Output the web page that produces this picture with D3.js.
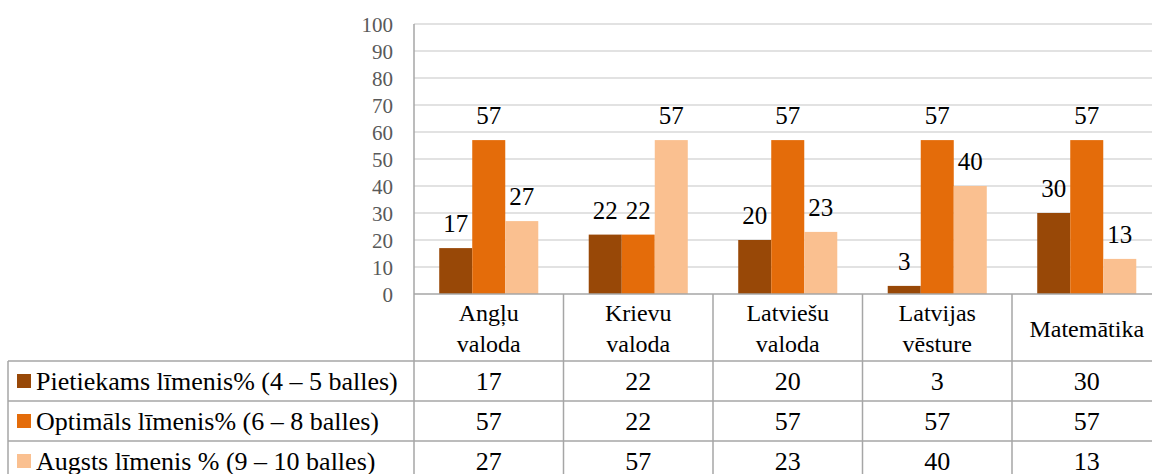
<!DOCTYPE html>
<html>
<head>
<meta charset="utf-8">
<script src="https://cdn.jsdelivr.net/npm/d3@7"></script>
<style>
  body { margin: 0; background: #fff; }
</style>
</head>
<body>
<script>
// data
var categories = ["Angļu valoda", "Krievu valoda", "Latviešu valoda", "Latvijas vēsture", "Matemātika"]
var categoryLines = [["Angļu", "valoda"], ["Krievu", "valoda"], ["Latviešu", "valoda"], ["Latvijas", "vēsture"], ["Matemātika"]]
var seriesNames = ["Pietiekams līmenis% (4 – 5 balles)", "Optimāls līmenis% (6 – 8 balles)", "Augsts līmenis % (9 – 10 balles)"]
var pietiekams = [17, 22, 20, 3, 30]
var optimals = [57, 22, 57, 57, 57]
var augsts = [27, 57, 23, 40, 13]
var yTicks = [0, 10, 20, 30, 40, 50, 60, 70, 80, 90, 100]
var colors = ["#984807", "#e46c0a", "#fac090"]

function main() {
  var W = 1152, H = 474
  var svg = d3.select("body").append("svg").attr("width", W).attr("height", H)
    .style("font-family", "'Liberation Serif', 'Times New Roman', Tinos, 'DejaVu Serif', serif")

  var values = [pietiekams, optimals, augsts]
  var plotLeft = 414
  var colW = 149.5
  var tableLeft = 8
  var axisY = 294
  var rowTop = 361
  var rowH = 40

  var x = d3.scaleBand().domain(categories).range([plotLeft, plotLeft + colW * categories.length])
  var x1 = d3.scaleBand().domain(seriesNames).range([0, x.bandwidth()]).paddingInner(0).paddingOuter(0.764)
  var y = d3.scaleLinear().domain([0, 100]).range([axisY, 24])

  // gridlines
  svg.append("g").selectAll("line")
    .data(yTicks.filter(function(d) { return d > 0 }))
    .enter().append("line")
    .attr("x1", plotLeft).attr("x2", W)
    .attr("y1", function(d) { return y(d) }).attr("y2", function(d) { return y(d) })
    .attr("stroke", "#d9d9d9").attr("stroke-width", 1.5)

  // y tick labels
  svg.append("g").selectAll("text")
    .data(yTicks)
    .enter().append("text")
    .attr("x", 393)
    .attr("y", function(d) { return y(d) + 7.5 })
    .attr("text-anchor", "end")
    .attr("fill", "#595959")
    .attr("font-size", 21)
    .text(function(d) { return d })

  // bars
  var groups = svg.append("g").selectAll("g")
    .data(categories)
    .enter().append("g")
    .attr("transform", function(d) { return "translate(" + x(d) + ",0)" })

  groups.each(function(cat, ci) {
    var g = d3.select(this)
    seriesNames.forEach(function(s, si) {
      var v = values[si][ci]
      g.append("rect")
        .attr("x", x1(s))
        .attr("y", y(v))
        .attr("width", x1.bandwidth())
        .attr("height", axisY - y(v))
        .attr("fill", colors[si])
      g.append("text")
        .attr("x", x1(s) + x1.bandwidth() / 2)
        .attr("y", y(v) - 16)
        .attr("text-anchor", "middle")
        .attr("font-size", 25)
        .attr("fill", "#000")
        .text(v)
    })
  })

  // table lines
  var lineColor = "#a6a6a6"
  var lines = svg.append("g").attr("stroke", lineColor).attr("stroke-width", 1.5)
  lines.append("line").attr("x1", plotLeft).attr("x2", plotLeft).attr("y1", y(100)).attr("y2", H)
  lines.append("line").attr("x1", plotLeft).attr("x2", W).attr("y1", axisY).attr("y2", axisY)
  categories.forEach(function(c, i) {
    if (i > 0) {
      lines.append("line").attr("x1", x(c)).attr("x2", x(c)).attr("y1", axisY).attr("y2", H)
    }
  })
  lines.append("line").attr("x1", tableLeft).attr("x2", tableLeft).attr("y1", rowTop).attr("y2", H)
  for (var r = 0; r < 3; r++) {
    lines.append("line").attr("x1", tableLeft).attr("x2", W)
      .attr("y1", rowTop + r * rowH).attr("y2", rowTop + r * rowH)
  }

  // category header
  categories.forEach(function(c, i) {
    var parts = categoryLines[i]
    var cx = x(c) + x.bandwidth() / 2
    var t = svg.append("text").attr("text-anchor", "middle").attr("font-size", 24).attr("fill", "#000")
    if (parts.length == 2) {
      t.append("tspan").attr("x", cx).attr("y", 321).text(parts[0])
      t.append("tspan").attr("x", cx).attr("y", 352).text(parts[1])
    } else {
      t.attr("x", cx).attr("y", 337).text(parts[0])
    }
  })

  // legend rows + values
  seriesNames.forEach(function(s, si) {
    var top = rowTop + si * rowH
    svg.append("rect")
      .attr("x", 17).attr("y", top + 13)
      .attr("width", 14).attr("height", 14)
      .attr("fill", colors[si])
    svg.append("text")
      .attr("x", 36).attr("y", top + 29)
      .attr("font-size", 26).attr("fill", "#000")
      .text(s)
    categories.forEach(function(c, ci) {
      svg.append("text")
        .attr("x", x(c) + x.bandwidth() / 2)
        .attr("y", top + 29)
        .attr("text-anchor", "middle")
        .attr("font-size", 26).attr("fill", "#000")
        .text(values[si][ci])
    })
  })
}

main()
</script>
</body>
</html>
